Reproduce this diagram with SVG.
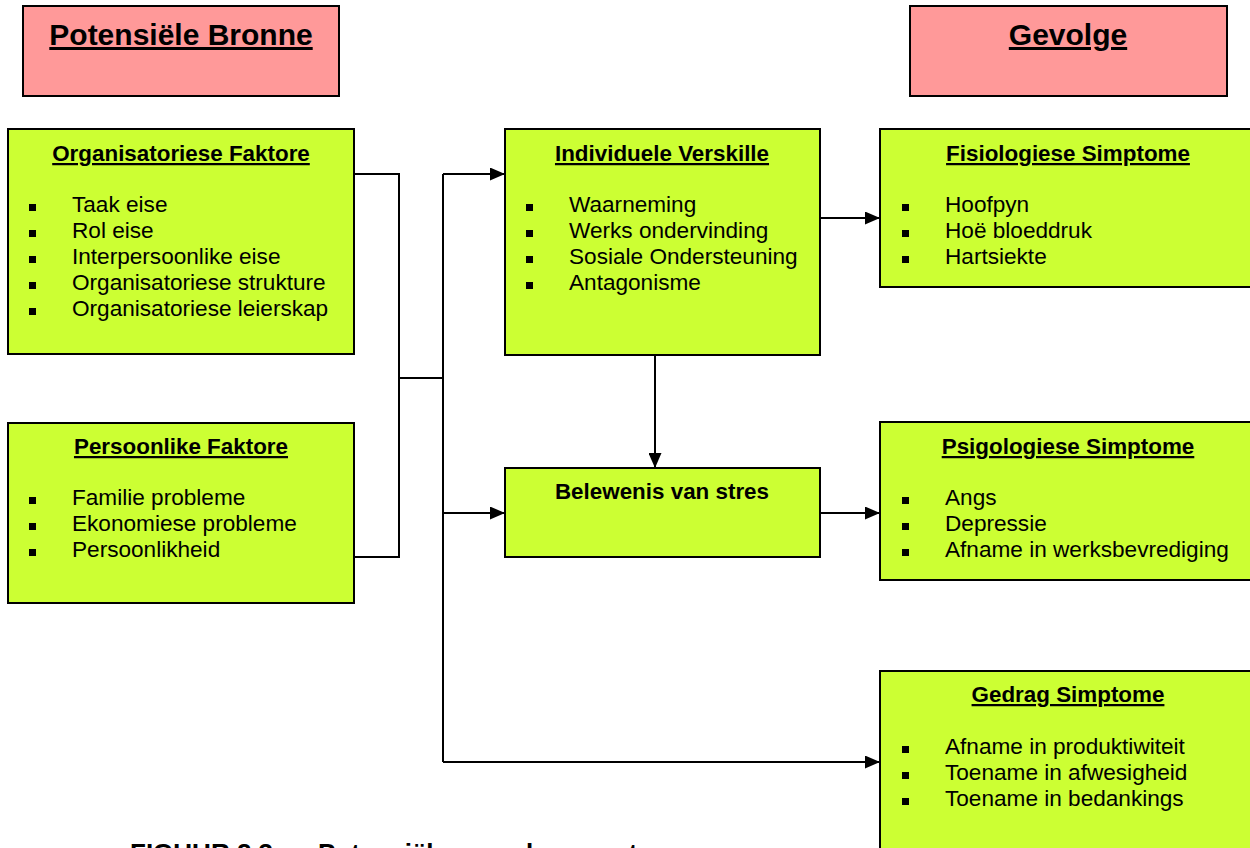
<svg xmlns="http://www.w3.org/2000/svg" width="1250" height="848" viewBox="0 0 1250 848">
<style>
.pink{fill:#FF9999;stroke:#000;stroke-width:2}
.green{fill:#CCFF33;stroke:#000;stroke-width:2}
.head{font-family:"Liberation Sans",Arial,sans-serif;font-weight:bold;font-size:30px;text-anchor:middle;text-decoration:underline;text-decoration-thickness:3px;text-underline-offset:4px;fill:#000}
.title{font-family:"Liberation Sans",Arial,sans-serif;font-weight:bold;font-size:22.4px;text-anchor:middle;text-decoration:underline;text-decoration-thickness:2px;text-underline-offset:5px;fill:#000}
.plain{font-family:"Liberation Sans",Arial,sans-serif;font-weight:bold;font-size:22.4px;text-anchor:middle;fill:#000}
.item{font-family:"Liberation Sans",Arial,sans-serif;font-size:22.6px;fill:#000}
.bul{fill:#000}
.conn{stroke:#000;stroke-width:2;fill:none}
.cap{font-family:"Liberation Sans",Arial,sans-serif;font-weight:bold;font-size:26px;fill:#000}
</style>
<defs>
<marker id="arr" markerUnits="userSpaceOnUse" markerWidth="15" markerHeight="13" refX="15" refY="6.5" orient="auto">
<path d="M0,0 L15,6.5 L0,13 z" fill="#000"/>
</marker>
</defs>

<g id="connectors">
<polyline class="conn" points="354,174 399,174 399,557 354,557"/>
<line class="conn" x1="399" y1="378" x2="443" y2="378"/>
<line class="conn" x1="443" y1="174" x2="443" y2="762"/>
<line class="conn" x1="443" y1="174" x2="505" y2="174" marker-end="url(#arr)"/>
<line class="conn" x1="443" y1="513" x2="505" y2="513" marker-end="url(#arr)"/>
<line class="conn" x1="443" y1="762" x2="880" y2="762" marker-end="url(#arr)"/>
<line class="conn" x1="820" y1="218" x2="880" y2="218" marker-end="url(#arr)"/>
<line class="conn" x1="820" y1="513" x2="880" y2="513" marker-end="url(#arr)"/>
<line class="conn" x1="655" y1="355" x2="655" y2="468" marker-end="url(#arr)"/>
</g>

<g id="bronne">
<rect class="pink" x="23" y="6" width="316" height="90"/>
<text class="head" x="181" y="45">Potensiële Bronne</text>
</g>

<g id="gevolge">
<rect class="pink" x="910" y="6" width="317" height="90"/>
<text class="head" x="1068" y="45">Gevolge</text>
</g>

<g id="organisatoriese">
<rect class="green" x="8" y="129" width="346" height="225"/>
<text class="title" x="181" y="161">Organisatoriese Faktore</text>
<rect class="bul" x="29" y="204" width="7" height="7"/>
<rect class="bul" x="29" y="230" width="7" height="7"/>
<rect class="bul" x="29" y="256" width="7" height="7"/>
<rect class="bul" x="29" y="282" width="7" height="7"/>
<rect class="bul" x="29" y="308" width="7" height="7"/>
<text class="item" x="72" y="212">Taak eise</text>
<text class="item" x="72" y="238">Rol eise</text>
<text class="item" x="72" y="264">Interpersoonlike eise</text>
<text class="item" x="72" y="290">Organisatoriese strukture</text>
<text class="item" x="72" y="316">Organisatoriese leierskap</text>
</g>

<g id="persoonlike">
<rect class="green" x="8" y="423" width="346" height="180"/>
<text class="title" x="181" y="454">Persoonlike Faktore</text>
<rect class="bul" x="29" y="497" width="7" height="7"/>
<rect class="bul" x="29" y="523" width="7" height="7"/>
<rect class="bul" x="29" y="549" width="7" height="7"/>
<text class="item" x="72" y="505">Familie probleme</text>
<text class="item" x="72" y="531">Ekonomiese probleme</text>
<text class="item" x="72" y="557">Persoonlikheid</text>
</g>

<g id="individuele">
<rect class="green" x="505" y="129" width="315" height="226"/>
<text class="title" x="662" y="161">Individuele Verskille</text>
<rect class="bul" x="526" y="204" width="7" height="7"/>
<rect class="bul" x="526" y="230" width="7" height="7"/>
<rect class="bul" x="526" y="256" width="7" height="7"/>
<rect class="bul" x="526" y="282" width="7" height="7"/>
<text class="item" x="569" y="212">Waarneming</text>
<text class="item" x="569" y="238">Werks ondervinding</text>
<text class="item" x="569" y="264">Sosiale Ondersteuning</text>
<text class="item" x="569" y="290">Antagonisme</text>
</g>

<g id="belewenis">
<rect class="green" x="505" y="468" width="315" height="89"/>
<text class="plain" x="662" y="499">Belewenis van stres</text>
</g>

<g id="fisiologiese">
<rect class="green" x="880" y="129" width="376" height="158"/>
<text class="title" x="1068" y="161">Fisiologiese Simptome</text>
<rect class="bul" x="902" y="204" width="7" height="7"/>
<rect class="bul" x="902" y="230" width="7" height="7"/>
<rect class="bul" x="902" y="256" width="7" height="7"/>
<text class="item" x="945" y="212">Hoofpyn</text>
<text class="item" x="945" y="238">Hoë bloeddruk</text>
<text class="item" x="945" y="264">Hartsiekte</text>
</g>

<g id="psigologiese">
<rect class="green" x="880" y="422" width="376" height="158"/>
<text class="title" x="1068" y="454">Psigologiese Simptome</text>
<rect class="bul" x="902" y="497" width="7" height="7"/>
<rect class="bul" x="902" y="523" width="7" height="7"/>
<rect class="bul" x="902" y="549" width="7" height="7"/>
<text class="item" x="945" y="505">Angs</text>
<text class="item" x="945" y="531">Depressie</text>
<text class="item" x="945" y="557">Afname in werksbevrediging</text>
</g>

<g id="gedrag">
<rect class="green" x="880" y="671" width="376" height="190"/>
<text class="title" x="1068" y="702">Gedrag Simptome</text>
<rect class="bul" x="902" y="746" width="7" height="7"/>
<rect class="bul" x="902" y="772" width="7" height="7"/>
<rect class="bul" x="902" y="798" width="7" height="7"/>
<text class="item" x="945" y="754">Afname in produktiwiteit</text>
<text class="item" x="945" y="780">Toename in afwesigheid</text>
<text class="item" x="945" y="806">Toename in bedankings</text>
</g>

<g id="caption">
<text class="cap" x="130" y="862">FIGUUR 2.3:</text>
<text class="cap" x="318" y="862">Potensiële oorsake van stres</text>
</g>
</svg>
